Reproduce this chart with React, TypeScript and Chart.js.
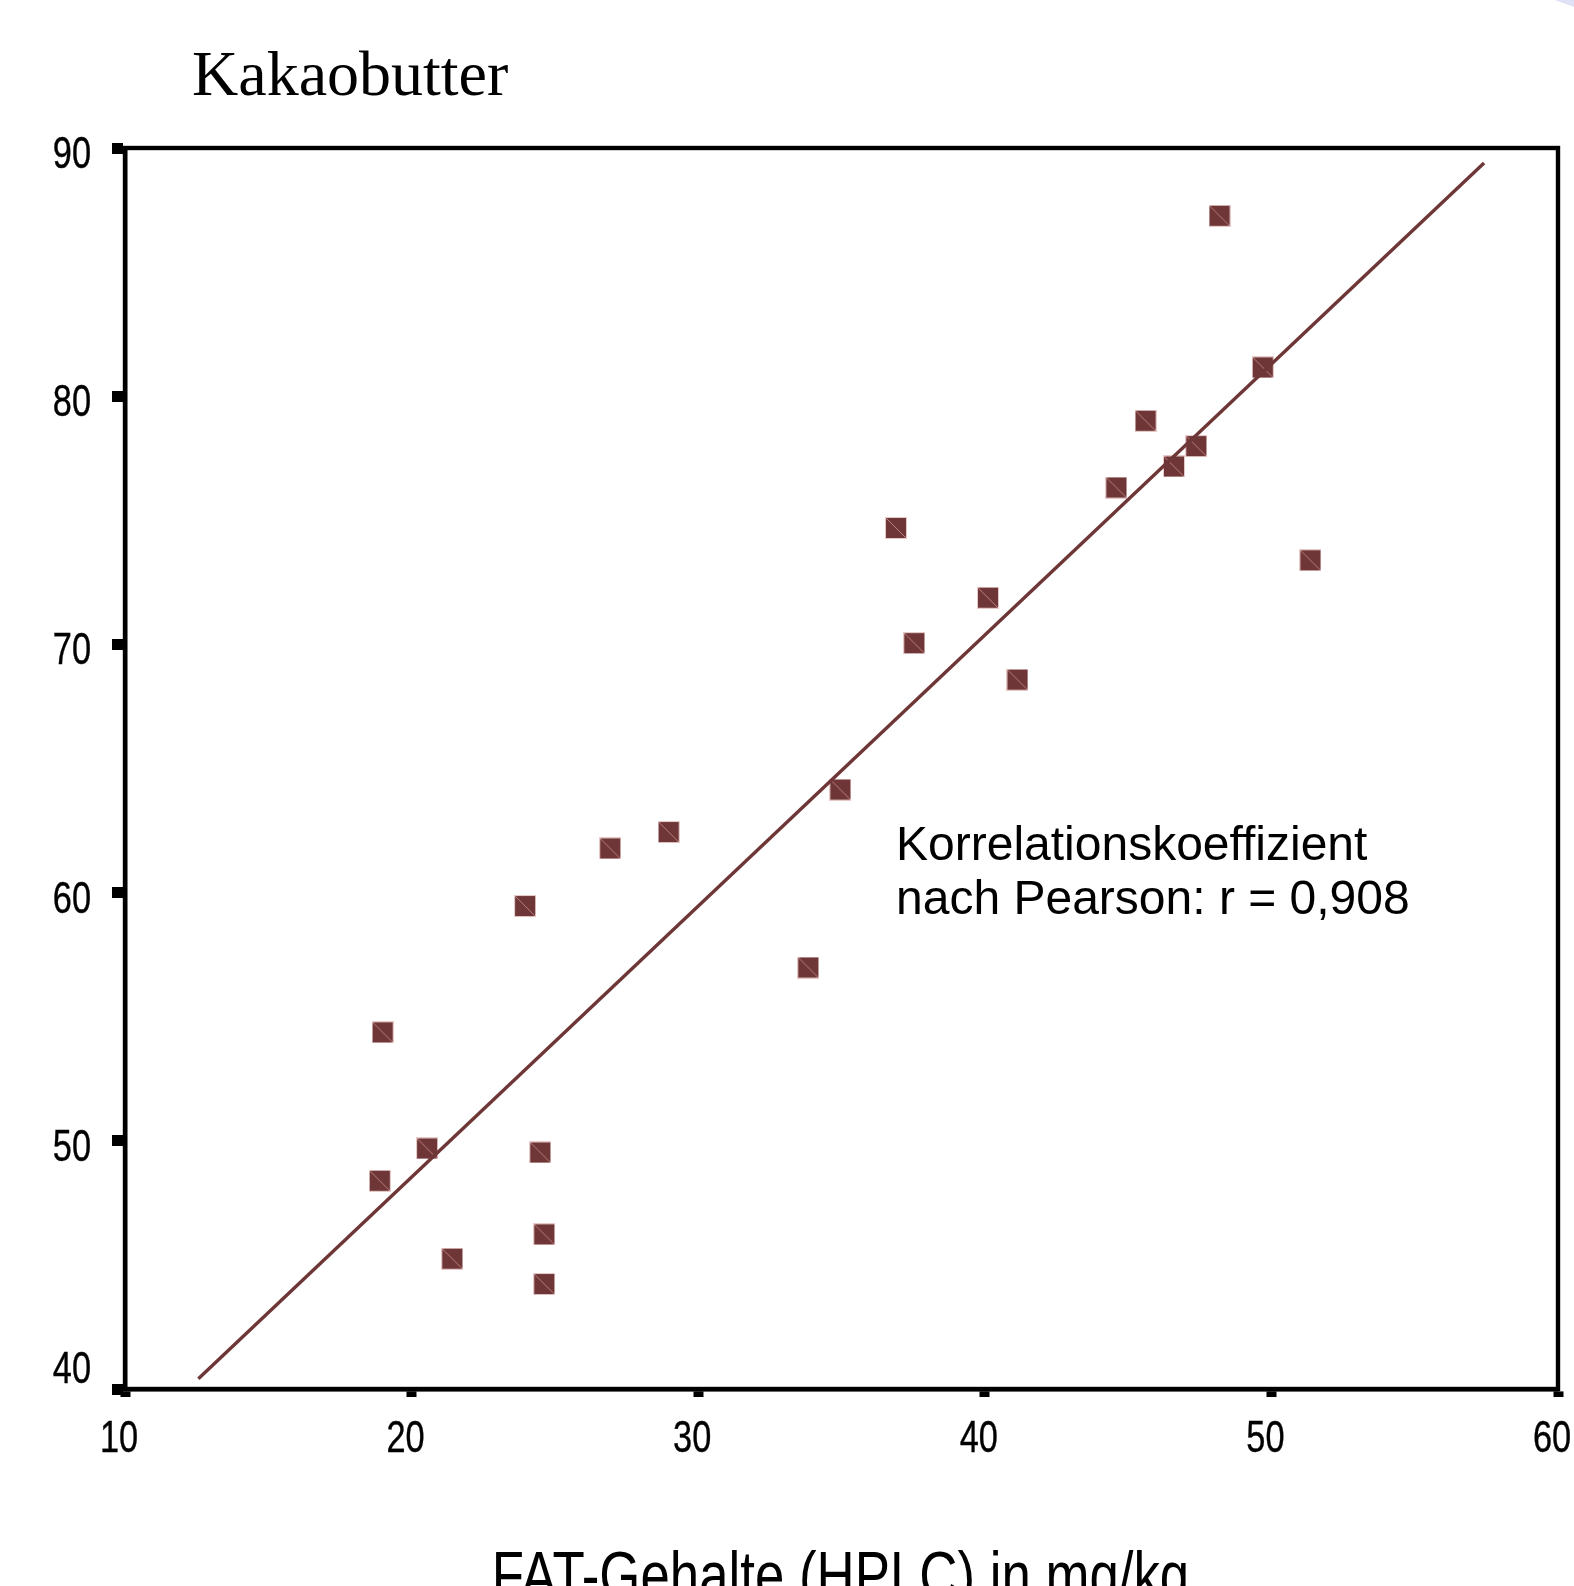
import React, { useEffect, useRef } from 'react';
import { Chart, registerables } from 'chart.js';

Chart.register(...registerables);

// ---- data ----
const fatX = [48.19, 49.7, 45.61, 47.38, 46.6, 44.59, 36.9, 51.36, 40.11, 37.54, 41.14, 34.96, 28.97, 26.93, 23.96, 33.84, 18.99, 20.54, 24.49, 18.89, 24.63, 21.42, 24.63];
const kakaoY = [87.27, 81.16, 79.01, 77.99, 77.17, 76.32, 74.69, 73.39, 71.88, 70.05, 68.58, 64.15, 62.44, 61.78, 59.46, 56.98, 54.37, 49.69, 49.53, 48.39, 46.23, 45.25, 44.23];
const trendX = [12.56, 57.42];
const trendY = [40.41, 89.4];
const xTicks = [10, 20, 30, 40, 50, 60];
const yTicks = [40, 50, 60, 70, 80, 90];
const chartTitle = 'Kakaobutter';
const xTitle = 'FAT-Gehalte (HPLC) in mg/kg';
const noteLines = ['Korrelationskoeffizient', 'nach Pearson: r = 0,908'];

const W = 1574;
const H = 1640;
const MAROON = '#6e3636';
const SANS = "'Liberation Sans', Arial, sans-serif";

function makeMarker(): HTMLCanvasElement {
  const c = document.createElement('canvas');
  c.width = 22;
  c.height = 22;
  const g = c.getContext('2d')!;
  g.fillStyle = '#e6c9c9';
  g.fillRect(0, 0, 22, 22);
  g.fillStyle = MAROON;
  g.fillRect(1, 1, 20, 20);
  g.strokeStyle = 'rgba(205,140,140,0.85)';
  g.lineWidth = 1;
  g.beginPath();
  g.moveTo(1, 1);
  g.lineTo(21, 21);
  g.stroke();
  return c;
}

function drawCondensed(
  ctx: CanvasRenderingContext2D,
  text: string,
  x: number,
  y: number,
  align: CanvasTextAlign,
  sx: number,
  weight: number,
) {
  ctx.save();
  ctx.translate(x, y);
  ctx.scale(sx, 1);
  ctx.textAlign = align;
  ctx.textBaseline = 'alphabetic';
  ctx.fillText(text, 0, 0);
  if (weight > 0) {
    ctx.strokeStyle = '#000';
    ctx.lineWidth = weight;
    ctx.strokeText(text, 0, 0);
  }
  ctx.restore();
}

const decor = {
  id: 'decor',
  afterDatasetsDraw(chart: any) {
    const { ctx, chartArea } = chart;
    ctx.save();
    ctx.strokeStyle = '#000';
    ctx.lineWidth = 4.4;
    ctx.strokeRect(chartArea.left, chartArea.top, chartArea.right - chartArea.left, chartArea.bottom - chartArea.top);
    ctx.restore();
  },
  afterDraw(chart: any) {
    const { ctx, chartArea } = chart;
    const xs = chart.scales.x;
    const ys = chart.scales.y;
    ctx.save();
    ctx.fillStyle = '#000';

    // axis tick labels (from the library's scales)
    ctx.font = `44px ${SANS}`;
    ys.ticks.forEach((t: any, i: number) => {
      const py = ys.getPixelForValue(t.value);
      const label = String(t.label ?? t.value);
      drawCondensed(ctx, label, ys.right - 34, py + (i === 0 ? -6 : 20), 'right', 0.78, 0.4);
    });
    xs.ticks.forEach((t: any) => {
      const px = xs.getPixelForValue(t.value);
      const label = String(t.label ?? t.value);
      drawCondensed(ctx, label, px - 6, xs.top + 63, 'center', 0.78, 0.4);
    });

    // x axis title
    ctx.font = `66px ${SANS}`;
    drawCondensed(ctx, xTitle, (chartArea.left + chartArea.right) / 2 - 1, xs.top + 209, 'center', 0.8, 0);

    // chart title
    ctx.textBaseline = 'alphabetic';
    ctx.textAlign = 'left';
    ctx.font = "64px 'Liberation Serif', 'Times New Roman', serif";
    ctx.fillText(chartTitle, 192, 95);

    // annotation
    ctx.font = `48px ${SANS}`;
    noteLines.forEach((t, i) => ctx.fillText(t, 896, 860 + i * 54));
    ctx.restore();
  },
};

export default function App() {
  const ref = useRef<HTMLCanvasElement>(null);
  useEffect(() => {
    if (!ref.current) return;
    const marker = makeMarker();
    const chart = new Chart(ref.current, {
      type: 'scatter',
      data: {
        datasets: [
          {
            type: 'line',
            data: trendX.map((x, i) => ({ x, y: trendY[i] })),
            borderColor: MAROON,
            borderWidth: 3.4,
            pointRadius: 0,
            fill: false,
            order: 0,
          } as any,
          {
            type: 'scatter',
            data: fatX.map((x, i) => ({ x, y: kakaoY[i] })),
            pointStyle: marker as any,
            pointRadius: 11,
            backgroundColor: MAROON,
            borderColor: MAROON,
            order: 1,
          },
        ],
      },
      options: {
        responsive: false,
        animation: false,
        devicePixelRatio: 1,
        layout: { padding: { top: 148, left: 0, right: 16, bottom: 0 } },
        plugins: { legend: { display: false }, tooltip: { enabled: false }, title: { display: false } },
        scales: {
          x: {
            type: 'linear',
            min: 10,
            max: 60,
            afterBuildTicks: (s: any) => {
              s.ticks = xTicks.map((v) => ({ value: v }));
            },
            afterFit: (s: any) => {
              s.height = H - 1389;
              s.paddingLeft = 0;
              s.paddingRight = 0;
            },
            ticks: { display: false, autoSkip: false, maxRotation: 0 },
            grid: {
              display: true,
              drawOnChartArea: false,
              drawTicks: true,
              tickLength: 8,
              tickWidth: 10,
              tickColor: '#000',
            },
            border: { display: true, color: '#000', width: 4.4 },
            title: { display: false, text: xTitle },
          },
          y: {
            type: 'linear',
            min: 40,
            max: 90,
            afterBuildTicks: (s: any) => {
              s.ticks = yTicks.map((v) => ({ value: v }));
            },
            afterFit: (s: any) => {
              s.width = 125;
              s.paddingTop = 0;
              s.paddingBottom = 0;
            },
            ticks: { display: false, autoSkip: false },
            grid: {
              display: true,
              drawOnChartArea: false,
              drawTicks: true,
              tickLength: 13,
              tickWidth: 11,
              tickColor: '#000',
            },
            border: { display: true, color: '#000', width: 4.4 },
          },
        },
      },
      plugins: [decor],
    });
    return () => chart.destroy();
  }, []);

  return (
    <div style={{ position: 'fixed', left: 0, top: 0, width: W, height: 1586, overflow: 'hidden', background: '#fff' }}>
      <div
        style={{
          position: 'absolute',
          left: 1555,
          top: -100,
          width: 200,
          height: 100,
          background: '#e1e1f5',
          transformOrigin: '0 100%',
          transform: 'rotate(20deg)',
        }}
      />
      <canvas ref={ref} width={W} height={H} style={{ position: 'absolute', left: 0, top: 0, width: W, height: H }} />
    </div>
  );
}
